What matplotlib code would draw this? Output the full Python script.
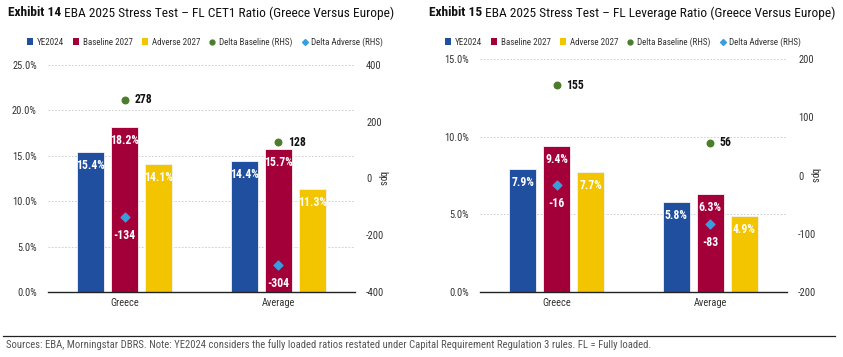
import matplotlib
matplotlib.use("Agg")
import matplotlib.pyplot as plt
from matplotlib.lines import Line2D
from matplotlib.patches import Patch
import numpy as np

plt.rcParams["font.family"] = ["Roboto Condensed", "Liberation Sans Narrow", "DejaVu Sans"]
plt.rcParams["font.stretch"] = "condensed"
plt.rcParams["axes.unicode_minus"] = False

CATEGORIES = ["Greece", "Average"]
SERIES = ["YE2024", "Baseline 2027", "Adverse 2027"]

CET1_YE2024 = [15.4, 14.4]
CET1_BASE = [18.2, 15.7]
CET1_ADV = [14.1, 11.3]
CET1_DELTA_BASE = [278, 128]
CET1_DELTA_ADV = [-134, -304]

LEV_YE2024 = [7.9, 5.8]
LEV_BASE = [9.4, 6.3]
LEV_ADV = [7.7, 4.9]
LEV_DELTA_BASE = [155, 56]
LEV_DELTA_ADV = [-16, -83]

BLUE = "#1f4f9e"
RED = "#a3003a"
YELLOW = "#f2c500"
GREEN = "#4b7d2b"
CYAN = "#3a9ddc"
TICK = "#333333"

W, H = 843, 357
fig = plt.figure(figsize=(W / 100, H / 100), dpi=100)


def px_axes(left, top, right, bottom):
    return fig.add_axes([left / W, 1 - bottom / H, (right - left) / W, (bottom - top) / H])


def draw_panel(ax, bars, deltas_base, deltas_adv, ymax, ystep, rmax, rstep):
    x = np.arange(len(CATEGORIES))
    width = 0.176
    offset = 0.222
    colors = [BLUE, RED, YELLOW]
    for i, (vals, color) in enumerate(zip(bars, colors)):
        pos = x + (i - 1) * offset
        ax.bar(pos, vals, width, color=color, edgecolor="#f4f4f4", linewidth=0.6, zorder=3)
        for p, v in zip(pos, vals):
            ax.annotate(f"{v:.1f}%", xy=(p, v), xytext=(0, -5), textcoords="offset points",
                        ha="center", va="top", fontsize=8.5, fontweight="bold",
                        color="white", zorder=5)

    ax.set_xlim(-0.5, 1.5)
    ax.set_ylim(0, ymax)
    ticks = np.arange(0, ymax + 1e-9, ystep)
    ax.set_yticks(ticks)
    ax.set_yticklabels([f"{t:.1f}%" for t in ticks])
    ax.set_xticks(x)
    ax.set_xticklabels(CATEGORIES)
    ax.tick_params(axis="both", length=0, labelsize=7.5, colors=TICK, pad=8)
    ax.tick_params(axis="x", pad=4)
    ax.grid(axis="y", linestyle=(0, (2, 2)), color="#c8c8c8", linewidth=0.6, zorder=0)
    for side in ["top", "right", "left"]:
        ax.spines[side].set_visible(False)
    ax.spines["bottom"].set_color("#222222")
    ax.spines["bottom"].set_linewidth(1.0)
    ax.spines["bottom"].set_zorder(4)

    ax2 = ax.twinx()
    ax2.set_ylim(-rmax, rmax)
    ax2.set_yticks(np.arange(-rmax, rmax + 1, rstep))
    ax2.tick_params(axis="y", length=0, labelsize=7.5, colors=TICK, pad=8)
    for side in ax2.spines:
        ax2.spines[side].set_visible(False)
    ax2.set_ylabel("bps", rotation=270, fontsize=7.5, color=TICK)
    ax2.yaxis.set_label_coords(1.105, 0.5)

    ax2.scatter(x, deltas_base, marker="o", s=22, color=GREEN, zorder=6)
    ax2.scatter(x, deltas_adv, marker="D", s=20, color=CYAN, zorder=6)
    for p, v in zip(x, deltas_base):
        ax2.annotate(f"{v}", xy=(p, v), xytext=(7, 0), textcoords="offset points",
                     ha="left", va="center", fontsize=8.5, fontweight="bold", color="#111111")
    for p, v in zip(x, deltas_adv):
        ax2.annotate(f"{v}", xy=(p, v), xytext=(0, -9), textcoords="offset points",
                     ha="center", va="top", fontsize=8.5, fontweight="bold", color="white")
    ax2.set_zorder(ax.get_zorder() + 1)
    ax.patch.set_visible(False)
    return ax2


def legend_handles():
    return [
        Patch(facecolor=BLUE, label=SERIES[0]),
        Patch(facecolor=RED, label=SERIES[1]),
        Patch(facecolor=YELLOW, label=SERIES[2]),
        Line2D([], [], marker="o", linestyle="", markersize=3.5, color=GREEN, label="Delta Baseline (RHS)"),
        Line2D([], [], marker="D", linestyle="", markersize=3, color=CYAN, label="Delta Adverse (RHS)"),
    ]


ax_l = px_axes(48, 65, 355, 292)
draw_panel(ax_l, [CET1_YE2024, CET1_BASE, CET1_ADV], CET1_DELTA_BASE, CET1_DELTA_ADV, 25, 5, 400, 200)

ax_r = px_axes(480, 59, 787, 292)
draw_panel(ax_r, [LEV_YE2024, LEV_BASE, LEV_ADV], LEV_DELTA_BASE, LEV_DELTA_ADV, 15, 5, 200, 100)

for cx in [205 / W, 623 / W]:
    fig.legend(handles=legend_handles(), loc="center", bbox_to_anchor=(cx, 1 - 42 / H), ncol=5,
               frameon=False, fontsize=6.5, handlelength=0.7, handleheight=0.7, handletextpad=0.4,
               columnspacing=1.0, labelcolor="#333333")

# titles
for x0, num, rest in [(8, "Exhibit 14", " EBA 2025 Stress Test \u2013 FL CET1 Ratio (Greece Versus Europe)"),
                      (429, "Exhibit 15", " EBA 2025 Stress Test \u2013 FL Leverage Ratio (Greece Versus Europe)")]:
    t = fig.text(x0 / W, 1 - 13 / H, num, fontsize=9.6, fontweight="bold", va="center", ha="left",
                 color="#111111")
    fig.canvas.draw()
    bb = t.get_window_extent()
    fig.text(bb.x1 / W, 1 - 13 / H, rest, fontsize=9.6, va="center", ha="left", color="#111111")

fig.add_artist(Line2D([3 / W, 835 / W], [1 - 336 / H, 1 - 336 / H], color="#222222", linewidth=0.9))
fig.text(6 / W, 1 - 345 / H,
         "Sources: EBA, Morningstar DBRS. Note: YE2024 considers the fully loaded ratios restated under "
         "Capital Requirement Regulation 3 rules. FL = Fully loaded.",
         fontsize=7.7, color="#555555", va="center", ha="left")

fig.savefig("out.png", dpi=100, facecolor="white")
